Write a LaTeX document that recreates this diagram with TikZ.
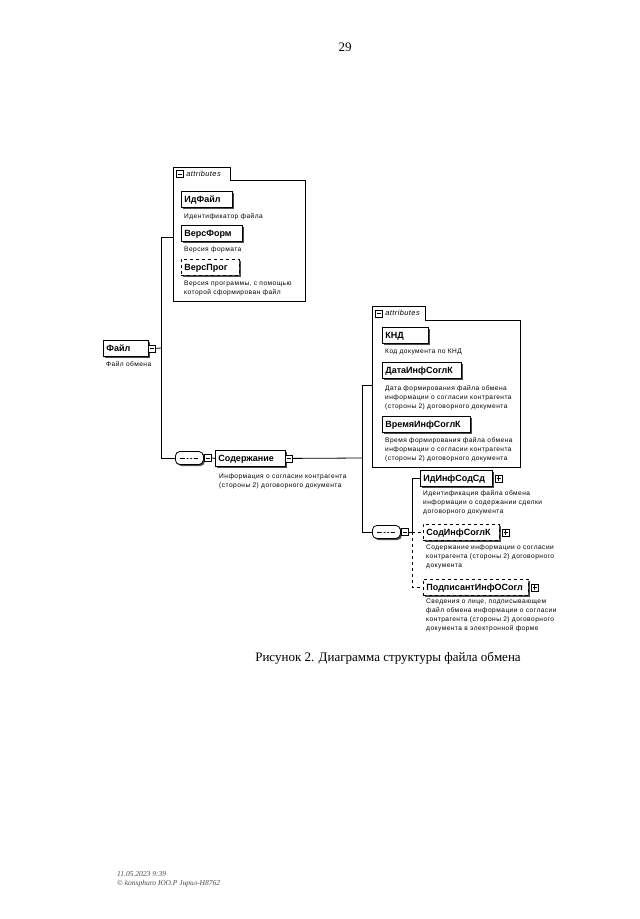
\documentclass[tikz,border=0pt]{standalone}
\usepackage{fontspec}
\setmainfont{Liberation Serif}
\newfontfamily\dsans{Liberation Sans}
\newfontfamily\dsansls[LetterSpace=7]{Liberation Sans}
\newfontfamily\dsanstab[LetterSpace=6]{Liberation Sans}
\usetikzlibrary{shadows,calc}
\tikzset{
  x=1pt, y=-1pt,
  elem/.style={draw, fill=white, line width=0.8pt, inner xsep=3pt, inner ysep=0pt,
     minimum height=16pt, text height=8pt, text depth=1pt, text width=#1, align=left, anchor=north west,
     font=\dsans\bfseries\fontsize{9}{10}\selectfont,
     general shadow={fill=black!70, shadow xshift=2pt, shadow yshift=-2pt}},
  optelem/.style={elem=#1, dashed},
  desc/.style={anchor=north west, inner sep=0pt, align=left,
     font=\dsansls\fontsize{6.6}{9}\selectfont},
  minus/.style={draw, fill=white, line width=0.6pt, minimum size=7pt, inner sep=0pt, anchor=west,
     path picture={\draw[line width=0.6pt] ([xshift=1.4pt]path picture bounding box.west) -- ([xshift=-1.4pt]path picture bounding box.east);}},
  plus/.style={draw, fill=white, line width=0.6pt, minimum size=7pt, inner sep=0pt, anchor=west,
     path picture={\draw[line width=0.6pt] ([xshift=1.4pt]path picture bounding box.west) -- ([xshift=-1.4pt]path picture bounding box.east);
                   \draw[line width=0.6pt] ([yshift=1.4pt]path picture bounding box.south) -- ([yshift=-1.4pt]path picture bounding box.north);}},
  seq/.style={draw, fill=white, line width=0.8pt, rounded corners=4.5pt, minimum width=28pt,
     minimum height=13pt, inner sep=0pt, anchor=west,
     general shadow={fill=black!70, shadow xshift=1.5pt, shadow yshift=-1.5pt},
     path picture={\draw[line width=0.6pt] ([xshift=5pt]path picture bounding box.west) -- ([xshift=-5pt]path picture bounding box.east);
        \foreach \d in {-3.5,0,3.5}{\fill ([xshift=\d pt]path picture bounding box.center) circle (1.3pt);}}},
  conn/.style={line width=0.8pt},
  attrbox/.style={inner sep=0pt, anchor=north west},
  tabbox/.style={inner sep=0pt, anchor=south west},
  outline/.style={fill=white, draw, line width=0.8pt},
  tabtext/.style={font=\dsanstab\itshape\fontsize{7.4}{9}\selectfont, anchor=west, inner sep=0pt},
}
\begin{document}
\begin{tikzpicture}
\useasboundingbox (0,0) rectangle (640,919);
\fill[white] (0,0) rectangle (640,919);

% page number and caption
\node[font=\fontsize{13}{15}\selectfont] (pg) at (345,47) {29};
\node[font=\fontsize{13}{16}\selectfont] (cap) at (388,658) {Рисунок 2. Диаграмма структуры файла обмена};
\node[anchor=north west, align=left, inner sep=0pt, font=\itshape\fontsize{7.5}{9}\selectfont, text=black!70] (foot) at (117,871) {11.05.2023 9:39\\© konsphuro ЮО.Р Jнрил-Н8762};

% ---------- top attributes group
\node[attrbox, minimum width=132pt, minimum height=121pt] (attr1) at (173,180) {};
\node[tabbox, minimum width=57pt, minimum height=12pt] (tab1) at (attr1.north west) {};
\draw[outline] (attr1.south west) -- (tab1.north west) -- (tab1.north east) -- (tab1.south east) -- (attr1.north east) -- (attr1.south east) -- cycle;
\node[minus] (tab1M) at ([xshift=3pt]tab1.west) {};
\node[tabtext] (tab1T) at ([xshift=2.5pt]tab1M.east) {attributes};

\node[elem=45pt] (idf) at (181,191) {ИдФайл};
\node[desc] (idfD) at (184,213) {Идентификатор файла};
\node[elem=55pt] (vf) at (181,225) {ВерсФорм};
\node[desc] (vfD) at (184,247) {Версия формата};
\node[optelem=52pt] (vp) at (181,259) {ВерсПрог};
\node[desc] (vpD) at (184,281) {Версия программы, с помощью\\которой сформирован файл};

% ---------- root
\node[elem=39pt] (file) at (103,340) {Файл};
\node[minus] (fileM) at ([xshift=-1pt]file.east) {};
\node[desc] (fileD) at (106,361) {Файл обмена};

% ---------- sequence 1 and Содержание
\node[seq] (seq1) at (175,458) {};
\node[minus] (seq1M) at ([xshift=0.5pt]seq1.east) {};
\node[elem=64pt] (sod) at (215,450) {Содержание};
\node[minus] (sodM) at ([xshift=-1pt]sod.east) {};
\node[desc] (sodD) at (219,474) {Информация о согласии контрагента\\(стороны 2) договорного документа};

% ---------- second attributes group
\node[attrbox, minimum width=148pt, minimum height=147pt] (attr2) at (372,320) {};
\node[tabbox, minimum width=53pt, minimum height=13pt] (tab2) at (attr2.north west) {};
\draw[outline] (attr2.south west) -- (tab2.north west) -- (tab2.north east) -- (tab2.south east) -- (attr2.north east) -- (attr2.south east) -- cycle;
\node[minus] (tab2M) at ([xshift=3pt]tab2.west) {};
\node[tabtext] (tab2T) at ([xshift=2.5pt]tab2M.east) {attributes};

\node[elem=40pt] (knd) at (382,327) {КНД};
\node[desc] (kndD) at (385,349) {Код документа по КНД};
\node[elem=73pt] (data) at (382,362) {ДатаИнфСоглК};
\node[desc] (dataD) at (385,385) {Дата формирования файла обмена\\информации о согласии контрагента\\(стороны 2) договорного документа};
\node[elem=82pt] (time) at (382,416) {ВремяИнфСоглК};
\node[desc] (timeD) at (385,437) {Время формирования файла обмена\\информации о согласии контрагента\\(стороны 2) договорного документа};

% ---------- sequence 2 and children
\node[seq] (seq2) at (372,532) {};
\node[minus] (seq2M) at ([xshift=0.5pt]seq2.east) {};
\node[elem=66pt] (idinf) at (420,470) {ИдИнфСодСд};
\node[plus] (idinfP) at ([xshift=2pt]idinf.east) {};
\node[desc] (idinfD) at (423,490) {Идентификация файла обмена\\информации о содержании сделки\\договорного документа};
\node[optelem=70pt] (sodinf) at (423,524) {СодИнфСоглК};
\node[plus] (sodinfP) at ([xshift=2pt]sodinf.east) {};
\node[desc] (sodinfD) at (426,545) {Содержание информации о согласии\\контрагента (стороны 2) договорного\\документа};
\node[optelem=99pt] (podp) at (423,579) {ПодписантИнфОСогл};
\node[plus] (podpP) at ([xshift=2pt]podp.east) {};
\node[desc] (podpD) at (426,599) {Сведения о лице, подписывающем\\файл обмена информации о согласии\\контрагента (стороны 2) договорного\\документа в электронной форме};

% ---------- connectors
\coordinate (v1) at (161,348);
\coordinate (v2) at (362,458);
\coordinate (v3) at (412,532);
\draw[conn] (fileM.east) -- (v1);
\draw[conn] (v1) |- ([yshift=-57pt]attr1.north west);
\draw[conn] (v1) |- (seq1.west);
\draw[conn] (seq1M.east) -- (sod.west);
\draw[conn] (sodM.east) -- (v2);
\draw[conn] (v2) |- ([yshift=-65pt]attr2.north west);
\draw[conn] (v2) |- (seq2.west);
\draw[conn] (seq2M.east) -- (v3);
\draw[conn] (v3) |- (idinf.west);
\draw[conn, dashed] (v3) |- (sodinf.west);
\draw[conn, dashed] (v3) |- (podp.west);
\end{tikzpicture}
\end{document}
